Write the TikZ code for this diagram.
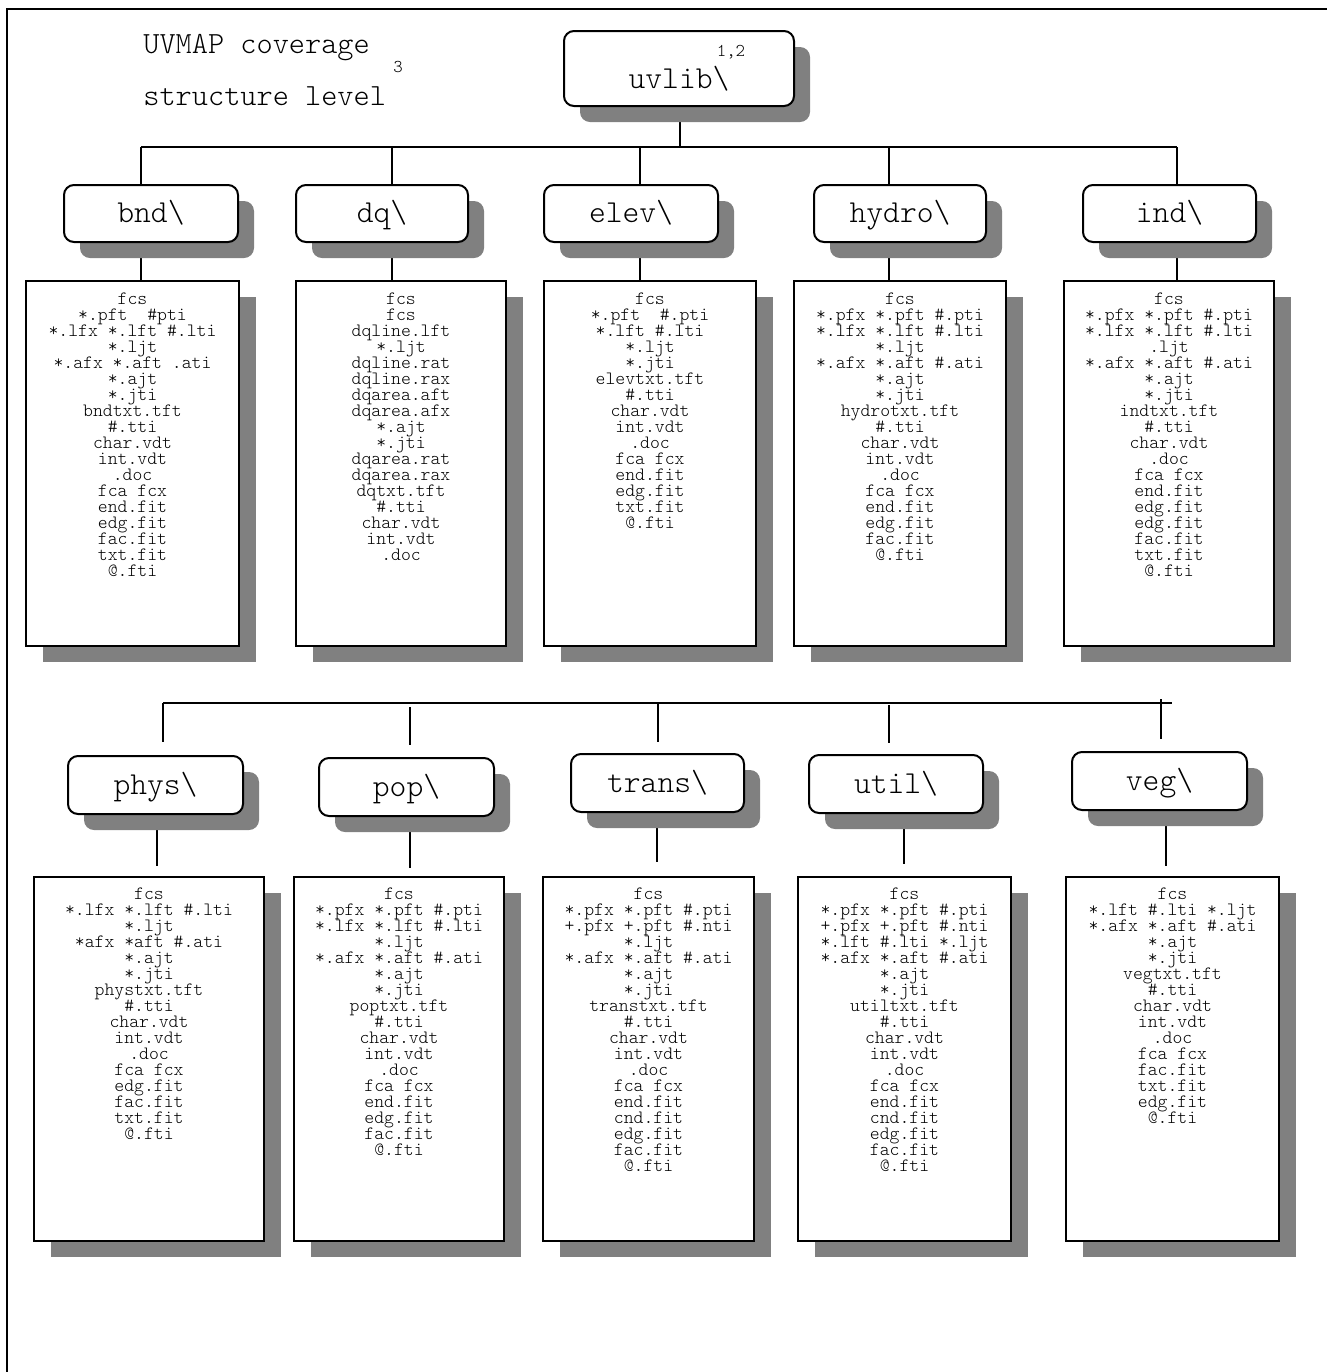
\documentclass[tikz,border=0pt]{standalone}
\usepackage{fontspec}
\newfontfamily\lmlight{lmmonolt10-regular.otf}
\usetikzlibrary{shadows,backgrounds,calc}
\definecolor{shadowgray}{HTML}{808080}
\newcommand{\flist}[4]{\begin{minipage}[t][#2][t]{#1}\centering\lmlight\fontsize{9.4pt}{8pt}\selectfont\lineskiplimit=-20pt\rule{0pt}{#3}#4\end{minipage}}
\tikzset{
  hdr/.style={draw, line width=1pt, rounded corners=5pt, fill=white, inner sep=0pt,
    anchor=north west, font=\lmlight\fontsize{16}{18}\selectfont, text height=9pt, text depth=0pt,
    general shadow={fill=shadowgray, shadow xshift=8pt, shadow yshift=-8pt}},
  filebox/.style={draw, line width=1pt, fill=white, inner sep=0pt, anchor=north west,
    general shadow={fill=shadowgray, shadow xshift=8.5pt, shadow yshift=-8pt}},
  titletxt/.style={inner sep=0pt, anchor=base west, font=\lmlight\fontsize{15.4}{17}\selectfont},
  suptxt/.style={inner sep=0pt, font=\lmlight\fontsize{9}{10}\selectfont},
  conn/.style={line width=0.8pt},
}
\begin{document}
\begin{tikzpicture}[x=0.5pt, y=-0.5pt]
\useasboundingbox (0,0) rectangle (1327,1372);
\draw[line width=1.25pt] (7,1372) -- (7,9) -- (1327,9);

% title
\node[titletxt] (t1) at (143,53) {UVMAP coverage};
\node[titletxt] (t2) at (143,105) {structure level};
\node[suptxt] (s3) at (398,67) {3};

% root
\node[hdr, minimum width=115pt, minimum height=37.5pt, text height=19.5pt] (uvlib) at (563,30) {uvlib\textbackslash};
\node[suptxt] (s12) at (731,52) {1,2};

% row 1 headers
\node[hdr, minimum width=87pt, minimum height=28.5pt] (bnd) at (63,184) {bnd\textbackslash};
\node[hdr, minimum width=86pt, minimum height=28.5pt] (dq) at (295,184) {dq\textbackslash};
\node[hdr, minimum width=87pt, minimum height=28.5pt] (elev) at (543,184) {elev\textbackslash};
\node[hdr, minimum width=86pt, minimum height=28.5pt] (hydro) at (813,184) {hydro\textbackslash};
\node[hdr, minimum width=86.5pt, minimum height=28.5pt] (ind) at (1082,184) {ind\textbackslash};

% row 1 file boxes
\node[filebox] (fbnd) at (25,280) {\flist{106.5pt}{182.5pt}{11.5pt}{fcs\\{}*.pft~ \#pti\\{}*.lfx *.lft \#.lti\\{}*.ljt\\{}*.afx *.aft .ati\\{}*.ajt\\{}*.jti\\{}bndtxt.tft\\{}\#.tti\\{}char.vdt\\{}int.vdt\\{}.doc\\{}fca fcx\\{}end.fit\\{}edg.fit\\{}fac.fit\\{}txt.fit\\{}@.fti}};
\node[filebox] (fdq) at (295,280) {\flist{105pt}{182.5pt}{11.5pt}{fcs\\{}fcs\\{}dqline.lft\\{}*.ljt\\{}dqline.rat\\{}dqline.rax\\{}dqarea.aft\\{}dqarea.afx\\{}*.ajt\\{}*.jti\\{}dqarea.rat\\{}dqarea.rax\\{}dqtxt.tft\\{}\#.tti\\{}char.vdt\\{}int.vdt\\{}.doc}};
\node[filebox] (felev) at (543,280) {\flist{106pt}{182.5pt}{11.5pt}{fcs\\{}*.pft~ \#.pti\\{}*.lft \#.lti\\{}*.ljt\\{}*.jti\\{}elevtxt.tft\\{}\#.tti\\{}char.vdt\\{}int.vdt\\{}.doc\\{}fca fcx\\{}end.fit\\{}edg.fit\\{}txt.fit\\{}@.fti}};
\node[filebox] (fhydro) at (793,280) {\flist{106pt}{182.5pt}{11.5pt}{fcs\\{}*.pfx *.pft \#.pti\\{}*.lfx *.lft \#.lti\\{}*.ljt\\{}*.afx *.aft \#.ati\\{}*.ajt\\{}*.jti\\{}hydrotxt.tft\\{}\#.tti\\{}char.vdt\\{}int.vdt\\{}.doc\\{}fca fcx\\{}end.fit\\{}edg.fit\\{}fac.fit\\{}@.fti}};
\node[filebox] (find) at (1063,280) {\flist{105pt}{182.5pt}{11.5pt}{fcs\\{}*.pfx *.pft \#.pti\\{}*.lfx *.lft \#.lti\\{}.ljt\\{}*.afx *.aft \#.ati\\{}*.ajt\\{}*.jti\\{}indtxt.tft\\{}\#.tti\\{}char.vdt\\{}.doc\\{}fca fcx\\{}end.fit\\{}edg.fit\\{}edg.fit\\{}fac.fit\\{}txt.fit\\{}@.fti}};

% row 2 headers
\node[hdr, minimum width=87.5pt, minimum height=29pt] (phys) at (67,755) {phys\textbackslash};
\node[hdr, minimum width=87.5pt, minimum height=29pt] (pop) at (318,757) {pop\textbackslash};
\node[hdr, minimum width=86.5pt, minimum height=29pt] (trans) at (570,753) {trans\textbackslash};
\node[hdr, minimum width=87pt, minimum height=29pt] (util) at (808,754) {util\textbackslash};
\node[hdr, minimum width=87.5pt, minimum height=29pt] (veg) at (1071,751) {veg\textbackslash};

% row 2 file boxes
\node[filebox] (fphys) at (33,876) {\flist{115pt}{182pt}{11pt}{fcs\\{}*.lfx *.lft \#.lti\\{}*.ljt\\{}*afx *aft \#.ati\\{}*.ajt\\{}*.jti\\{}phystxt.tft\\{}\#.tti\\{}char.vdt\\{}int.vdt\\{}.doc\\{}fca fcx\\{}edg.fit\\{}fac.fit\\{}txt.fit\\{}@.fti}};
\node[filebox] (fpop) at (293,876) {\flist{105pt}{182pt}{11pt}{fcs\\{}*.pfx *.pft \#.pti\\{}*.lfx *.lft \#.lti\\{}*.ljt\\{}*.afx *.aft \#.ati\\{}*.ajt\\{}*.jti\\{}poptxt.tft\\{}\#.tti\\{}char.vdt\\{}int.vdt\\{}.doc\\{}fca fcx\\{}end.fit\\{}edg.fit\\{}fac.fit\\{}@.fti}};
\node[filebox] (ftrans) at (542,876) {\flist{105.5pt}{182pt}{11pt}{fcs\\{}*.pfx *.pft \#.pti\\{}+.pfx +.pft \#.nti\\{}*.ljt\\{}*.afx *.aft \#.ati\\{}*.ajt\\{}*.jti\\{}transtxt.tft\\{}\#.tti\\{}char.vdt\\{}int.vdt\\{}.doc\\{}fca fcx\\{}end.fit\\{}cnd.fit\\{}edg.fit\\{}fac.fit\\{}@.fti}};
\node[filebox] (futil) at (797,876) {\flist{106.5pt}{182pt}{11pt}{fcs\\{}*.pfx *.pft \#.pti\\{}+.pfx +.pft \#.nti\\{}*.lft \#.lti *.ljt\\{}*.afx *.aft \#.ati\\{}*.ajt\\{}*.jti\\{}utiltxt.tft\\{}\#.tti\\{}char.vdt\\{}int.vdt\\{}.doc\\{}fca fcx\\{}end.fit\\{}cnd.fit\\{}edg.fit\\{}fac.fit\\{}@.fti}};
\node[filebox] (fveg) at (1065,876) {\flist{106.5pt}{182pt}{11pt}{fcs\\{}*.lft \#.lti *.ljt\\{}*.afx *.aft \#.ati\\{}*.ajt\\{}*.jti\\{}vegtxt.tft\\{}\#.tti\\{}char.vdt\\{}int.vdt\\{}.doc\\{}fca fcx\\{}fac.fit\\{}txt.fit\\{}edg.fit\\{}@.fti}};

% connectors
\coordinate (j0) at (680,147);
\coordinate (j1) at (141,147);
\coordinate (j2) at (392,147);
\coordinate (j3) at (640,147);
\coordinate (j4) at (889,147);
\coordinate (j5) at (1177,147);
\coordinate (k0) at (163,703);
\coordinate (k9) at (1172,703);
\coordinate (u1) at (163,742);
\coordinate (u2t) at (410,707);
\coordinate (u2) at (410,745);
\coordinate (u3) at (658,742);
\coordinate (u4t) at (889,705);
\coordinate (u4) at (889,743);
\coordinate (u5t) at (1161,699);
\coordinate (u5) at (1161,739);
\coordinate (l1) at (157,866);
\coordinate (l2) at (410,868);
\coordinate (l3) at (657,862);
\coordinate (l4) at (904,864);
\coordinate (l5) at (1166,866);
\begin{scope}[on background layer]
\draw[conn] (uvlib.south -| j0) -- (j0);
\draw[conn] (j1) -- (j5);
\foreach \i/\n in {1/bnd,2/dq,3/elev,4/hydro,5/ind}{
  \draw[conn] (j\i) -- (j\i |- \n.north);
  \draw[conn] (\n.south -| j\i) -- (j\i |- f\n.north);
}
\draw[conn] (k0) -- (k9);
\draw[conn] (k0) -- (u1);
\draw[conn] (u2t) -- (u2);
\draw[conn] (u3 |- k0) -- (u3);
\draw[conn] (u4t) -- (u4);
\draw[conn] (u5t) -- (u5);
\draw[conn] (phys.south -| l1) -- (l1);
\draw[conn] (pop.south -| l2) -- (l2);
\draw[conn] (trans.south -| l3) -- (l3);
\draw[conn] (util.south -| l4) -- (l4);
\draw[conn] (veg.south -| l5) -- (l5);
\end{scope}
\end{tikzpicture}
\end{document}
